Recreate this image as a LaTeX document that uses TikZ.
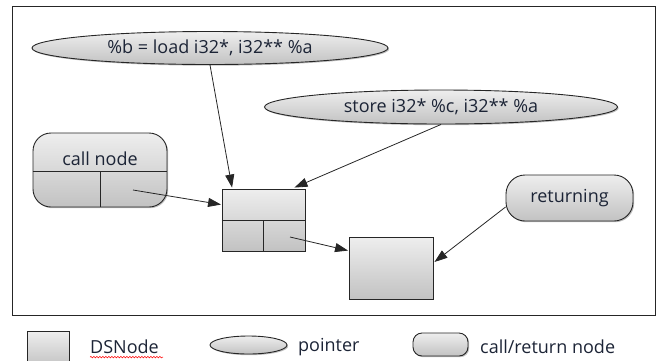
\documentclass[tikz,border=0pt]{standalone}
\usepackage{fontspec}
\setmainfont{Open Sans}
\usetikzlibrary{arrows.meta,shadows,calc,decorations.pathmorphing,shapes.geometric}
\definecolor{txt}{HTML}{1C2436}
\definecolor{topg}{HTML}{EEEEEE}
\definecolor{botg}{HTML}{C2C2C2}
\tikzset{
  shaded/.style={draw=black!85, line width=0.9pt, top color=topg, bottom color=botg,
    drop shadow={shadow xshift=1.2pt, shadow yshift=-1.2pt, opacity=0.25, fill=black}},
  dsbox/.style={shaded, rectangle, inner sep=0pt},
  txtfont/.style={font=\fontsize{18}{20}\selectfont, text=txt},
  ptr/.style={shaded, ellipse, inner sep=0pt, txtfont},
  callbox/.style={shaded, rectangle, inner sep=0pt, txtfont},
  lbl/.style={anchor=west, inner sep=0pt, txtfont},
  link/.style={draw=black!85, line width=0.8pt, -{Triangle[length=13pt,width=9pt]}},
  divider/.style={draw=black!85, line width=0.9pt}
}
\begin{document}
\begin{tikzpicture}[x=1pt,y=-1pt]
\useasboundingbox (0,0) rectangle (661,360);
% outer frame
\draw[line width=0.9pt, draw=black!85] (12,6) rectangle (655,315);

% pointer nodes
\node[ptr, minimum width=356pt, minimum height=33pt] (ell1) at (210,48) {\%b = load i32*, i32** \%a};
\node[ptr, minimum width=353pt, minimum height=34pt] (ell2) at (441,107) {store i32* \%c, i32** \%a};

% call node with its two cells
\node[callbox, rounded corners=18pt, minimum width=134pt, minimum height=74pt] (call) at (100,170) {};
\node[txtfont] (calllbl) at (100,158.5) {call node};
\draw[divider] (call.west |- 0,171) -- (call.east |- 0,171);
\draw[divider] (100,171) -- (call.south);
\coordinate (callptr) at (133,190);

% returning node
\node[callbox, rounded corners=19pt, minimum width=127pt, minimum height=46pt] (ret) at (569.5,198) {returning};

% DS nodes
\node[dsbox, minimum width=83pt, minimum height=62pt] (ds1) at (263.5,220) {};
\draw[divider] (ds1.west) -- (ds1.east);
\draw[divider] (ds1.center) -- (ds1.south);
\coordinate (dsptr) at (290,237);
\node[dsbox, minimum width=84pt, minimum height=62pt] (ds2) at (391,268) {};

% connectors
\draw[link] (ell1.south) -- ($(ds1.north west)+(10.5,-1)$);
\draw[link] (ell2.south) -- ($(ds1.north east)+(-11,-1)$);
\draw[link] (callptr) -- ($(ds1.north west)+(-0.5,16)$);
\draw[link] (dsptr) -- ($(ds2.north west)+(-0.5,14)$);
\draw[link] ($(ret.west)+(0,9)$) -- ($(ds2.east)+(1,-6)$);

% legend
\node[dsbox, minimum width=42pt, minimum height=36pt] (lds) at (48,349) {};
\node[lbl] (ldstxt) at (90,347) {DSNode};
\draw[red, line width=0.5pt, decorate, decoration={snake, amplitude=0.8pt, segment length=3pt}] (ldstxt.south west) ++(0,3) -- ++(73,0);
\node[ptr, minimum width=77pt, minimum height=18pt] (lptr) at (248.5,345) {};
\node[lbl] (lptrtxt) at (298,347) {pointer};
\node[callbox, rounded corners=9pt, minimum width=55pt, minimum height=23pt] (lcall) at (440.5,344.5) {};
\node[lbl] (lcalltxt) at (480,347) {call/return node};
\end{tikzpicture}
\end{document}
